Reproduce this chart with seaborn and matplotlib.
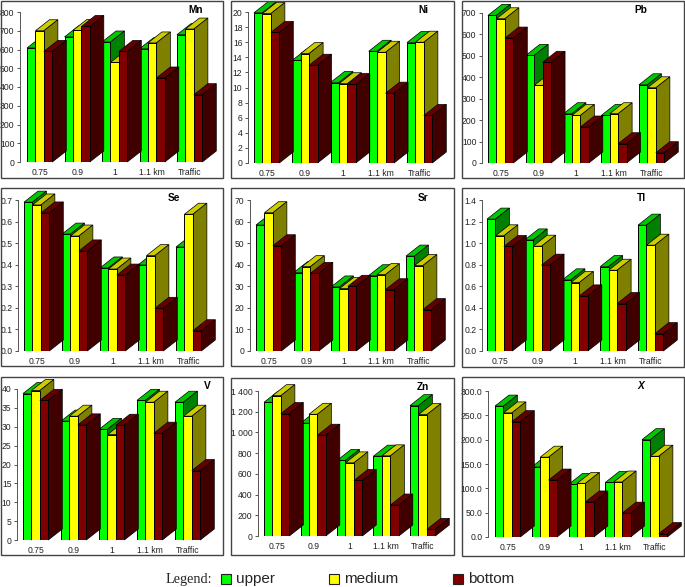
import numpy as np
import pandas as pd
import matplotlib
matplotlib.use("Agg")
import matplotlib.pyplot as plt
from matplotlib.patches import Polygon, Rectangle
import seaborn as sns

distances = ["0.75", "0.9", "1", "1.1 km", "Traffic"]
levels = ["upper", "medium", "bottom"]

mn_upper = [608, 667, 640, 604, 679]
mn_medium = [700, 702, 531, 635, 709]
mn_bottom = [590, 723, 590, 448, 359]

ni_upper = [19.9, 13.6, 10.66, 14.8, 15.95]
ni_medium = [19.8, 14.5, 10.5, 14.67, 16.0]
ni_bottom = [17.3, 12.95, 10.4, 9.25, 6.3]

pb_upper = [689, 502, 230, 222, 365]
pb_medium = [673, 362, 222, 230, 351]
pb_bottom = [583, 470, 168, 90, 48]

se_upper = [0.69, 0.542, 0.385, 0.399, 0.482]
se_medium = [0.677, 0.533, 0.38, 0.442, 0.634]
se_bottom = [0.64, 0.464, 0.352, 0.198, 0.094]

sr_upper = [58.4, 36.3, 29.7, 34.9, 44.0]
sr_medium = [64.1, 39.1, 28.9, 35.4, 39.6]
sr_bottom = [48.8, 36.0, 30.0, 28.4, 19.2]

tl_upper = [1.223, 1.03, 0.66, 0.783, 1.167]
tl_medium = [1.068, 0.972, 0.635, 0.749, 0.981]
tl_bottom = [0.969, 0.796, 0.511, 0.44, 0.161]

v_upper = [38.8, 31.5, 29.3, 37.0, 36.5]
v_medium = [39.6, 32.8, 27.9, 36.5, 32.8]
v_bottom = [37.0, 30.5, 30.4, 28.3, 18.4]

zn_upper = [1291, 1089, 729, 771, 1259]
zn_medium = [1355, 1175, 706, 774, 1172]
zn_bottom = [1182, 973, 536, 299, 64]

x_upper = [269, 144, 108, 112, 200]
x_medium = [255, 164, 110, 113, 166]
x_bottom = [237, 117, 72, 49, 7]

front_colors = ["#00ff00", "#ffff00", "#800000"]
top_colors = ["#00c800", "#cccc00", "#660000"]
side_colors = ["#008000", "#808000", "#400000"]

W, H = 685, 587
DEPTH_X, DEPTH_Y = 14, 11  # px

plt.rcParams["font.family"] = ["Liberation Sans", "DejaVu Sans"]
sns.set_style("white")
plt.rcParams["font.family"] = ["Liberation Sans", "DejaVu Sans"]

fig = plt.figure(figsize=(W / 100, H / 100), dpi=100, facecolor="white")


def box(x0, y0, x1, y1):
    # pixel box (y going down) to figure fractions
    return [x0 / W, 1 - y1 / H, (x1 - x0) / W, (y1 - y0) / H]


def draw_panel(name, series, ymax, step, fmt, frame, axis_x, y_zero, y_top, first, last, title_xy, italic=False):
    fx0, fy0, fx1, fy1 = frame
    fig.add_artist(Rectangle((fx0 / W, 1 - fy1 / H), (fx1 - fx0) / W, (fy1 - fy0) / H, transform=fig.transFigure,
                             fill=False, edgecolor="#444444", linewidth=1.0))

    ax = fig.add_axes(box(axis_x, y_top, fx1 - 3, y_zero))
    ax.patch.set_alpha(0)

    df = pd.DataFrame({
        "distance": distances * 3,
        "level": np.repeat(levels, 5),
        "value": np.concatenate(series),
    })
    spacing = (last - first) / 4
    group_w = 25.3 / spacing
    sns.barplot(data=df, x="distance", y="value", hue="level", hue_order=levels, palette=front_colors,
                width=group_w, gap=0, saturation=1, edgecolor="black", linewidth=0.7, legend=False, ax=ax)

    x_left = -group_w / 2 - (first - axis_x) / spacing
    ax.set_xlim(x_left, x_left + (fx1 - 3 - axis_x) / spacing)
    ax.set_ylim(0, ymax)

    dx = DEPTH_X / spacing
    dy = DEPTH_Y / (y_zero - y_top) * ymax
    for i, bars in enumerate(ax.containers):
        for bar in bars:
            x0, x1 = bar.get_x(), bar.get_x() + bar.get_width()
            h = bar.get_height()
            bar.set_zorder(5 + i * 2)
            top = Polygon([(x0, h), (x1, h), (x1 + dx, h + dy), (x0 + dx, h + dy)], closed=True,
                          facecolor=top_colors[i], edgecolor="black", linewidth=0.5,
                          zorder=4 + i * 2, clip_on=False)
            side = Polygon([(x1, 0), (x1, h), (x1 + dx, h + dy), (x1 + dx, dy)], closed=True,
                           facecolor=side_colors[i], edgecolor="black", linewidth=0.5,
                           zorder=4 + i * 2, clip_on=False)
            ax.add_patch(top)
            ax.add_patch(side)

    ticks = np.arange(0, ymax + step / 2, step)
    ax.set_yticks(ticks)
    ax.set_yticklabels([fmt(t) for t in ticks], fontsize=6.2, color="#222222")
    ax.tick_params(axis="y", length=2.5, width=0.7, color="#555555", pad=1.5, left=True)
    ax.tick_params(axis="x", length=0, pad=4, labelsize=6.2, labelcolor="#222222")
    ax.set_xlabel("")
    ax.set_ylabel("")
    sns.despine(ax=ax, top=True, right=True, bottom=True)
    ax.spines["left"].set_color("#555555")
    ax.spines["left"].set_linewidth(0.7)

    fig.text(title_xy[0] / W, 1 - title_xy[1] / H, name, ha="center", va="center", fontsize=7.3,
             fontweight="bold", style="italic" if italic else "normal", color="black")


int_fmt = lambda t: f"{t:.0f}"
one_fmt = lambda t: f"{t:.1f}"
space_fmt = lambda t: f"{t:,.0f}".replace(",", " ")

draw_panel("Mn", [mn_upper, mn_medium, mn_bottom], 800, 100, int_fmt, (1, 1, 223, 178), 20, 162, 12, 27, 177, (196, 10))
draw_panel("Ni", [ni_upper, ni_medium, ni_bottom], 20, 2, int_fmt, (231, 1, 454, 178), 248, 163, 12, 254, 407, (423, 10))
draw_panel("Pb", [pb_upper, pb_medium, pb_bottom], 700, 100, int_fmt, (462, 1, 684, 178), 482, 163, 13, 488, 639, (641, 10))
draw_panel("Se", [se_upper, se_medium, se_bottom], 0.7, 0.1, one_fmt, (1, 188, 223, 366), 18, 351, 200, 24, 176, (174, 198))
draw_panel("Sr", [sr_upper, sr_medium, sr_bottom], 70, 10, int_fmt, (231, 188, 454, 366), 250, 351, 200, 256, 406, (423, 198))
draw_panel("Tl", [tl_upper, tl_medium, tl_bottom], 1.4, 0.2, one_fmt, (462, 188, 684, 367), 482, 351, 200, 487, 638, (641, 198))
draw_panel("V", [v_upper, v_medium, v_bottom], 40, 5, int_fmt, (1, 377, 223, 555), 17, 540, 389, 23, 175, (207, 386))
draw_panel("Zn", [zn_upper, zn_medium, zn_bottom], 1400, 200, space_fmt, (231, 378, 454, 555), 258, 536, 391, 264, 410, (423, 387))
draw_panel("X", [x_upper, x_medium, x_bottom], 300, 50, one_fmt, (462, 377, 684, 556), 488, 537, 391, 495, 642, (641, 386), italic=True)

# legend along the bottom
fig.text(166 / W, 1 - 579 / H, "Legend:", family="Liberation Serif", fontsize=10.3, va="center", ha="left")
for label, color, sq_x in zip(levels, front_colors, [221, 329, 453]):
    fig.add_artist(Rectangle((sq_x / W, 1 - 584 / H), 10 / W, 10 / H, transform=fig.transFigure,
                             facecolor=color, edgecolor="#222222", linewidth=0.8))
    fig.text((sq_x + 15) / W, 1 - 579 / H, label, fontsize=11, va="center", ha="left")

fig.savefig("out.png", dpi=100)
